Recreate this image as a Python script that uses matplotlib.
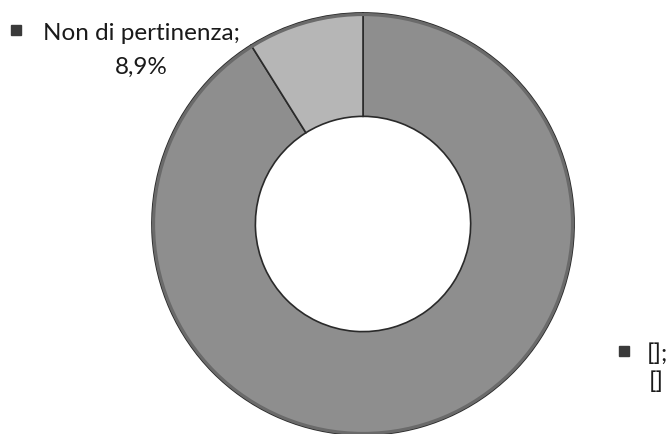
import matplotlib
matplotlib.use("Agg")
import matplotlib.pyplot as plt

labels = ["[]", "Non di pertinenza"]
values = [91.1, 8.9]
label_text = ["[];", "Non di pertinenza;"]
pct_text = ["[]", "8,9%"]
colors = ["#8e8e8e", "#b6b6b6"]

plt.rcParams['font.family'] = ['Lato', 'DejaVu Sans']

fig = plt.figure(figsize=(6.68, 4.35), dpi=100)
ax = fig.add_axes([0, 0, 1, 1])
ax.pie(values, colors=colors, startangle=90, counterclock=False,
       radius=1.0, wedgeprops=dict(width=0.49, edgecolor="#2a2a2a", linewidth=1.2))
# slightly darker rim, as in the scan
ax.pie([1], colors=["#6a6a6a"], radius=1.0,
       wedgeprops=dict(width=0.015, edgecolor="none", linewidth=0))

ax.set_xlim(-1.720, 1.445)
ax.set_ylim(-0.995, 1.066)
ax.set_aspect("equal")
ax.axis("off")

# label of the small slice (top left)
ax.plot(-1.642, 0.917, marker="s", markersize=7, color="#3a3a3a", clip_on=False)
ax.text(-1.05, 0.905, label_text[1], fontsize=17.5, ha="center", va="center", color="#1a1a1a")
ax.text(-1.05, 0.745, pct_text[1], fontsize=17.5, ha="center", va="center", color="#1a1a1a")

# label of the big slice (bottom right)
ax.plot(1.237, -0.602, marker="s", markersize=7, color="#3a3a3a", clip_on=False)
ax.text(1.345, -0.612, label_text[0], fontsize=17.5, ha="left", va="center", color="#1a1a1a")
ax.text(1.39, -0.745, pct_text[0], fontsize=17.5, ha="center", va="center", color="#1a1a1a")

fig.savefig("out.png", dpi=100)
